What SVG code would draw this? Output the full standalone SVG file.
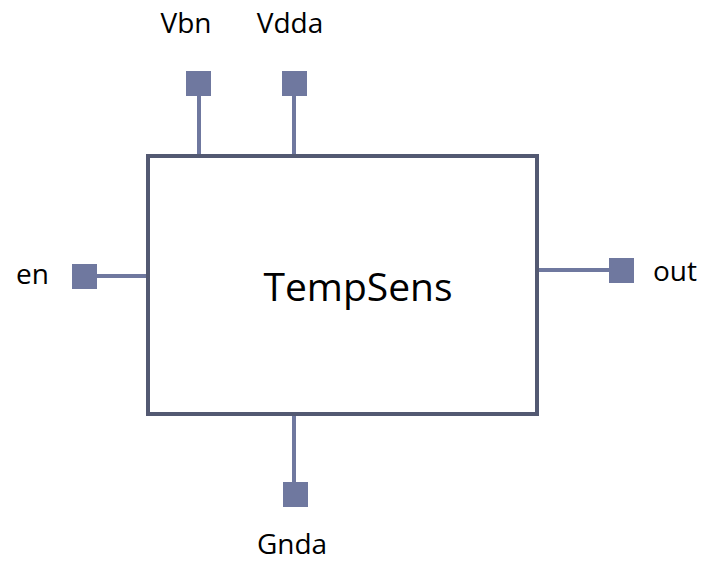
<svg xmlns="http://www.w3.org/2000/svg" width="710" height="562" viewBox="0 0 710 562">
<style>
.box{fill:#fff;stroke:#535972;stroke-width:4}
.pin{fill:#6f789f}
.wire{stroke:#6f789f;stroke-width:4;fill:none}
.lbl{font-family:"Open Sans","Liberation Sans",sans-serif;font-size:28px;fill:#000}
</style>
<rect width="710" height="562" fill="#fff"/>
<g id="connectors">
<line class="wire" x1="199" y1="96" x2="199" y2="156"/>
<line class="wire" x1="294" y1="96" x2="294" y2="156"/>
<line class="wire" x1="97" y1="276" x2="148" y2="276"/>
<line class="wire" x1="537" y1="270" x2="609" y2="270"/>
<line class="wire" x1="294" y1="415" x2="294" y2="482"/>
</g>
<g id="TempSens">
<rect class="box" x="148" y="156" width="389" height="258"/>
<text x="358" y="301" text-anchor="middle" font-family="'Open Sans','Liberation Sans',sans-serif" font-size="39" fill="#000">TempSens</text>
</g>
<g id="Vbn"><rect class="pin" x="186" y="71" width="25" height="25"/><text class="lbl" x="186" y="33" text-anchor="middle">Vbn</text></g>
<g id="Vdda"><rect class="pin" x="282" y="71" width="25" height="25"/><text class="lbl" x="290" y="33" text-anchor="middle">Vdda</text></g>
<g id="en"><rect class="pin" x="72" y="264" width="25" height="25"/><text class="lbl" x="16" y="284">en</text></g>
<g id="out"><rect class="pin" x="609" y="258" width="25" height="25"/><text class="lbl" x="653" y="281">out</text></g>
<g id="Gnda"><rect class="pin" x="283" y="482" width="25" height="25"/><text class="lbl" x="292" y="554" text-anchor="middle">Gnda</text></g>
</svg>
